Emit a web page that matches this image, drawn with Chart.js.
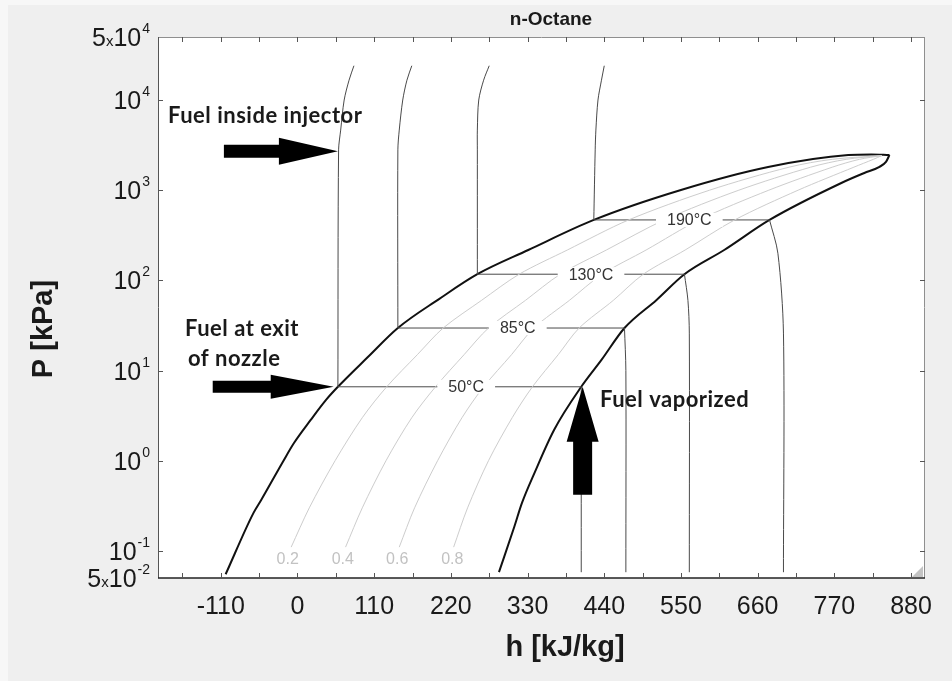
<!DOCTYPE html>
<html>
<head>
<meta charset="utf-8">
<title>n-Octane P-h</title>
<script src="https://cdn.jsdelivr.net/npm/chart.js@4.4.1/dist/chart.umd.min.js"></script>
<style>
  html, body { margin: 0; padding: 0; background: #f0f0f0; }
  #wrap { width: 952px; height: 681px; }
</style>
</head>
<body>
<div id="wrap"><canvas id="ph" width="952" height="681"></canvas></div>
<script>
// n-Octane P-h diagram

// AXES
const xTicks = [-165, -110, -55, 0, 55, 110, 165, 220, 275, 330, 385, 440, 495, 550, 605, 660, 715, 770, 825, 880];
const xTickLabels = [-110, 0, 110, 220, 330, 440, 550, 660, 770, 880];
const yTicks = [0.05, 0.1, 1, 10, 100, 1000, 10000, 50000];
const yTickMant = ["5", "", "", "", "", "", "", "5"];
const yTickExp = ["-2", "-1", "0", "1", "2", "3", "4", "4"];

// SATURATION DOME  (h kJ/kg, P kPa)
const satLiqH = [-103, -63, -52, -20, -5, 19, 41, 58, 101, 144, 203, 258, 331, 425, 550, 675, 790, 823, 849];
const satLiqP = [0.055, 0.264, 0.367, 1.0, 1.57, 2.83, 4.72, 6.6, 14.1, 29.6, 62, 117, 217, 468, 1005, 1807, 2455, 2490, 2455];
const satVapH = [289, 311, 322, 340, 368, 407, 436, 469, 515, 555, 612, 677, 780, 813, 834, 844, 849];
const satVapP = [0.058, 0.185, 0.34, 0.733, 2.19, 6.6, 13.1, 29.6, 60.7, 117, 217, 468, 1202, 1552, 1806, 2056, 2455];

// QUALITY LINES
const qualLabels = ["0.2", "0.4", "0.6", "0.8"];
const qualP = [0.11, 0.3, 1, 3, 6.6, 15, 29.6, 60, 117, 217, 468, 1000, 1800, 2200, 2420];
const qual02H = [-9, 17, 54, 93, 128, 172, 209, 264, 318, 387, 475, 591, 705, 767, 838];
const qual04H = [69, 93, 127, 164, 198, 239, 274, 327, 377, 443, 526, 633, 736, 787, 838];
const qual06H = [146, 168, 201, 236, 267, 307, 339, 390, 437, 500, 576, 676, 767, 806, 838];
const qual08H = [224, 244, 274, 308, 337, 374, 404, 453, 496, 556, 627, 718, 798, 826, 838];

// ISOTHERMS
const isoLabels = ["50°C", "85°C", "130°C", "190°C"];
const isoSatP = [6.6, 29.6, 117, 468];
const isoSatLiqH = [58, 144, 258, 425];
const isoSatVapH = [407, 469, 555, 677];
// compressed liquid part, top down to the dome
const liqBranchP = [24000, 16600, 10000, 4640, 2800];
const iso50LiqH = [81, 74, 67, 62, 59];
const iso85LiqH = [164, 157, 151, 146, 144];
const iso130LiqH = [275, 267, 260, 258, 258];
const iso190LiqH = [440, 436, 431, 428, 427];
// superheated vapour part, from the dome down
const iso50VapH = [407, 407];
const iso50VapP = [6.6, 0.058];
const iso85VapH = [469, 471, 471];
const iso85VapP = [29.6, 10, 0.058];
const iso130VapH = [555, 560, 562, 562];
const iso130VapP = [117, 60, 26, 0.058];
const iso190VapH = [677, 689, 697, 697];
const iso190VapP = [468, 200, 26, 0.058];

const SANS = "'Liberation Sans', Arial, sans-serif";
const INK = "#1a1a1a";

function pts(hs, ps) {
  return hs.map((h, i) => ({ x: h, y: ps[i] }));
}

function line(data, color, width, tension) {
  return {
    data: data,
    showLine: true,
    borderColor: color,
    borderWidth: width,
    pointRadius: 0,
    pointHoverRadius: 0,
    tension: tension,
    fill: false
  };
}

const datasets = [];

// quality lines first so they sit under everything
[qual02H, qual04H, qual06H, qual08H].forEach(q => {
  datasets.push(line(pts(q, qualP), "#cdcdcd", 1, 0.3));
});

// isotherms
const liqBranches = [iso50LiqH, iso85LiqH, iso130LiqH, iso190LiqH];
const vapBranches = [[iso50VapH, iso50VapP], [iso85VapH, iso85VapP], [iso130VapH, iso130VapP], [iso190VapH, iso190VapP]];
isoLabels.forEach((t, i) => {
  const liq = pts(liqBranches[i], liqBranchP).concat([{ x: isoSatLiqH[i], y: isoSatP[i] }]);
  datasets.push(line(liq, "#4a4a4a", 1, 0.3));
  datasets.push(line([{ x: isoSatLiqH[i], y: isoSatP[i] }, { x: isoSatVapH[i], y: isoSatP[i] }], "#4a4a4a", 1, 0));
  datasets.push(line(pts(vapBranches[i][0], vapBranches[i][1]), "#4a4a4a", 1, 0.3));
});

// dome (h rises along both branches, so a monotone spline keeps them smooth)
const liqLine = line(pts(satLiqH, satLiqP), "#111", 2, 0);
const vapLine = line(pts(satVapH, satVapP), "#111", 2, 0);
liqLine.cubicInterpolationMode = "monotone";
vapLine.cubicInterpolationMode = "monotone";
datasets.push(liqLine, vapLine);

// ANNOTATION LAYOUT
const notes = {
  isoLabelH: [242, 316, 421, 562],
  qualLabelH: [-14, 65, 143, 222],
  qualLabelP: 0.08
};

function arrow(ctx, tx, ty, dir, len, shaft, headLen, headW) {
  ctx.save();
  ctx.translate(tx, ty);
  ctx.rotate(dir);
  ctx.beginPath();
  ctx.moveTo(0, 0);
  ctx.lineTo(-headLen, -headW / 2);
  ctx.lineTo(-headLen, -shaft / 2);
  ctx.lineTo(-len, -shaft / 2);
  ctx.lineTo(-len, shaft / 2);
  ctx.lineTo(-headLen, shaft / 2);
  ctx.lineTo(-headLen, headW / 2);
  ctx.closePath();
  ctx.fill();
  ctx.restore();
}

const extras = {
  id: "extras",
  beforeDraw(chart) {
    const { ctx, chartArea: a } = chart;
    ctx.save();
    ctx.fillStyle = "#f7f7f7";
    ctx.fillRect(0, 0, chart.width, chart.height);
    ctx.fillStyle = "#efefef";
    ctx.fillRect(8, 5, chart.width - 8, chart.height - 5);
    ctx.fillStyle = "#fff";
    ctx.fillRect(a.left, a.top, a.right - a.left, a.bottom - a.top);
    ctx.restore();
  },
  afterDatasetsDraw(chart) {
    const { ctx, chartArea: a } = chart;
    const xs = chart.scales.x, ys = chart.scales.y;
    ctx.save();

    // isotherm labels on white boxes
    ctx.font = "16px " + SANS;
    ctx.textAlign = "center";
    ctx.textBaseline = "middle";
    isoLabels.forEach((t, i) => {
      const x = xs.getPixelForValue(notes.isoLabelH[i]);
      const y = ys.getPixelForValue(isoSatP[i]);
      const w = ctx.measureText(t).width + 22;
      ctx.fillStyle = "#fff";
      ctx.fillRect(x - w / 2, y - 7, w, 14);
      ctx.fillStyle = "#333";
      ctx.fillText(t, x, y + 1);
    });

    // quality labels
    ctx.fillStyle = "#c2c2c2";
    qualLabels.forEach((t, i) => {
      ctx.fillText(t, xs.getPixelForValue(notes.qualLabelH[i]), ys.getPixelForValue(notes.qualLabelP));
    });

    // frame
    ctx.lineWidth = 1;
    ctx.strokeStyle = "#8f8f8f";
    ctx.beginPath();
    ctx.moveTo(a.left, a.top + 0.5); ctx.lineTo(a.right, a.top + 0.5);
    ctx.moveTo(a.right - 0.5, a.top); ctx.lineTo(a.right - 0.5, a.bottom);
    ctx.stroke();
    ctx.strokeStyle = "#555";
    ctx.beginPath();
    ctx.moveTo(a.left + 0.5, a.top); ctx.lineTo(a.left + 0.5, a.bottom);
    ctx.stroke();
    ctx.strokeStyle = "#222";
    ctx.lineWidth = 1.5;
    ctx.beginPath();
    ctx.moveTo(a.left, a.bottom); ctx.lineTo(a.right, a.bottom);
    ctx.stroke();

    // inward ticks
    ctx.lineWidth = 1;
    ctx.strokeStyle = "#555";
    ctx.beginPath();
    xTicks.forEach(v => {
      const x = Math.round(xs.getPixelForValue(v)) + 0.5;
      ctx.moveTo(x, a.bottom); ctx.lineTo(x, a.bottom - 5);
      ctx.moveTo(x, a.top); ctx.lineTo(x, a.top + 5);
    });
    yTicks.slice(1, -1).forEach(v => {
      const y = Math.round(ys.getPixelForValue(v)) + 0.5;
      ctx.moveTo(a.left, y); ctx.lineTo(a.left + 5, y);
      ctx.moveTo(a.right, y); ctx.lineTo(a.right - 5, y);
    });
    ctx.stroke();

    // resize grip
    ctx.fillStyle = "#c4c4c4";
    ctx.beginPath();
    ctx.moveTo(a.right - 2, a.bottom - 12);
    ctx.lineTo(a.right - 2, a.bottom - 1);
    ctx.lineTo(a.right - 13, a.bottom - 1);
    ctx.closePath();
    ctx.fill();

    // y tick labels 10^n
    ctx.fillStyle = INK;
    ctx.textAlign = "right";
    ctx.textBaseline = "alphabetic";
    yTicks.forEach((v, i) => {
      const y = ys.getPixelForValue(v) + 9;
      let x = 150;
      ctx.font = "14px " + SANS;
      ctx.fillText(yTickExp[i], x, y - 13);
      x -= ctx.measureText(yTickExp[i]).width + 1;
      ctx.font = "25px " + SANS;
      ctx.fillText("10", x, y);
      x -= ctx.measureText("10").width;
      if (yTickMant[i]) {
        ctx.font = "15px " + SANS;
        ctx.fillText("x", x, y);
        x -= ctx.measureText("x").width;
        ctx.font = "25px " + SANS;
        ctx.fillText(yTickMant[i], x, y);
      }
    });

    // titles
    ctx.textAlign = "center";
    ctx.font = "bold 19px " + SANS;
    ctx.fillText("n-Octane", 551, 25);
    ctx.font = "bold 29px " + SANS;
    ctx.fillText("h [kJ/kg]", 565, 656);
    ctx.save();
    ctx.translate(52, 329);
    ctx.rotate(-Math.PI / 2);
    ctx.fillText("P [kPa]", 0, 0);
    ctx.restore();

    // arrows
    ctx.fillStyle = "#000";
    arrow(ctx, xs.getPixelForValue(58), ys.getPixelForValue(2700), 0, 114, 13, 59, 27);
    arrow(ctx, xs.getPixelForValue(52), ys.getPixelForValue(6.6), 0, 121, 12, 63, 24);
    arrow(ctx, xs.getPixelForValue(409), ys.getPixelForValue(6.6), -Math.PI / 2, 108, 19, 55, 32);

    // callouts
    ctx.fillStyle = INK;
    ctx.textAlign = "left";
    ctx.font = "bold 22px Lato, 'Open Sans', sans-serif";
    ctx.letterSpacing = "0.5px";
    ctx.fillText("Fuel inside injector", 168, 123);
    ctx.fillText("Fuel at exit", 185, 336);
    ctx.fillText("of nozzle", 188, 366);
    ctx.fillText("Fuel vaporized", 600, 407);
    ctx.letterSpacing = "0px";

    ctx.restore();
  }
};

new Chart(document.getElementById("ph"), {
  type: "scatter",
  data: { datasets: datasets },
  options: {
    responsive: false,
    animation: false,
    devicePixelRatio: 1,
    layout: { padding: { left: 0, top: 37, right: 27, bottom: 0 } },
    plugins: {
      legend: { display: false },
      tooltip: { enabled: false }
    },
    scales: {
      x: {
        type: "linear",
        min: -200,
        max: 900,
        afterFit: s => { s.height = 103; },
        afterBuildTicks: s => { s.ticks = xTicks.map(v => ({ value: v })); },
        ticks: {
          autoSkip: false,
          maxRotation: 0,
          padding: 14,
          color: INK,
          font: { family: SANS, size: 25 },
          callback: v => (xTickLabels.includes(v) ? String(v) : "")
        },
        grid: { display: false, drawTicks: false },
        border: { display: false }
      },
      y: {
        type: "logarithmic",
        min: 0.05,
        max: 50000,
        afterFit: s => { s.width = 158; },
        afterBuildTicks: s => { s.ticks = yTicks.map(v => ({ value: v })); },
        ticks: { display: false },
        grid: { display: false, drawTicks: false },
        border: { display: false }
      }
    }
  },
  plugins: [extras]
});
</script>
</body>
</html>
